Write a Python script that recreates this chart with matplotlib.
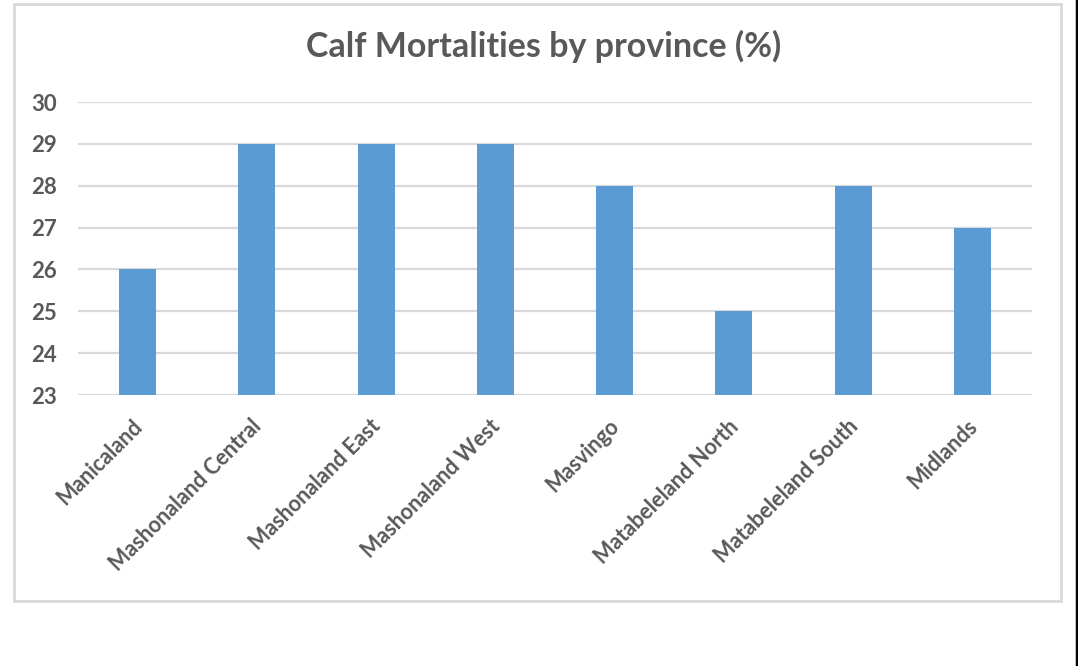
import matplotlib
matplotlib.use("Agg")
import matplotlib.pyplot as plt
import matplotlib.transforms as mtransforms
from matplotlib.patches import Rectangle
from matplotlib.lines import Line2D

provinces = ["Manicaland", "Mashonaland Central", "Mashonaland East", "Mashonaland West",
             "Masvingo", "Matabeleland North", "Matabeleland South", "Midlands"]
mortality = [26, 29, 29, 29, 28, 25, 28, 27]
y_ticks = [23, 24, 25, 26, 27, 28, 29, 30]

W, H = 1078, 666
fig = plt.figure(figsize=(W / 100, H / 100), dpi=100)
fig.patch.set_facecolor("white")

plt.rcParams["font.family"] = ["Lato", "DejaVu Sans"]
text_color = "#595959"
grid_color = "#D9D9D9"

# chart area frame
fig.add_artist(Rectangle((14 / W, 1 - 601 / H), (1061 - 14) / W, (601 - 4) / H,
                         transform=fig.transFigure, fill=False,
                         edgecolor=grid_color, linewidth=2))
# dark edge line at the right
fig.add_artist(Line2D([1077 / W, 1077 / W], [0, 1], transform=fig.transFigure,
                      color="black", linewidth=2.5))

ax = fig.add_axes([78 / W, 1 - 395 / H, (1032 - 78) / W, (395 - 102) / H])
x = range(len(provinces))
ax.bar(x, mortality, width=0.31, color="#5B9BD5", zorder=3, bottom=0)
ax.set_ylim(23, 30)
ax.set_xlim(-0.5, len(provinces) - 0.5)
ax.set_yticks(y_ticks)
ax.set_yticklabels([str(v) for v in y_ticks], fontsize=16, fontweight="bold", color=text_color)
ax.set_xticks(list(x))
ax.set_xticklabels(provinces, rotation=45, ha="right", rotation_mode="anchor",
                   fontsize=15.5, fontweight="bold", color=text_color)
ax.tick_params(axis="both", length=0)
ax.tick_params(axis="y", pad=15)
ax.tick_params(axis="x", pad=12)
# nudge the slanted labels down-left so their ends sit just left of each bar
shift = mtransforms.ScaledTranslation(-6 / 100, -4 / 100, fig.dpi_scale_trans)
for lbl in ax.get_xticklabels():
    lbl.set_transform(lbl.get_transform() + shift)
ax.grid(axis="y", color=grid_color, linewidth=1.6, zorder=0)
for s in ax.spines.values():
    s.set_visible(False)
ax.set_facecolor("none")

fig.text(544 / W, 1 - 46 / H, "Calf Mortalities by province (%)", ha="center", va="center",
         fontsize=24.5, fontweight="bold", color=text_color)

fig.savefig("out.png", dpi=100, facecolor="white")
